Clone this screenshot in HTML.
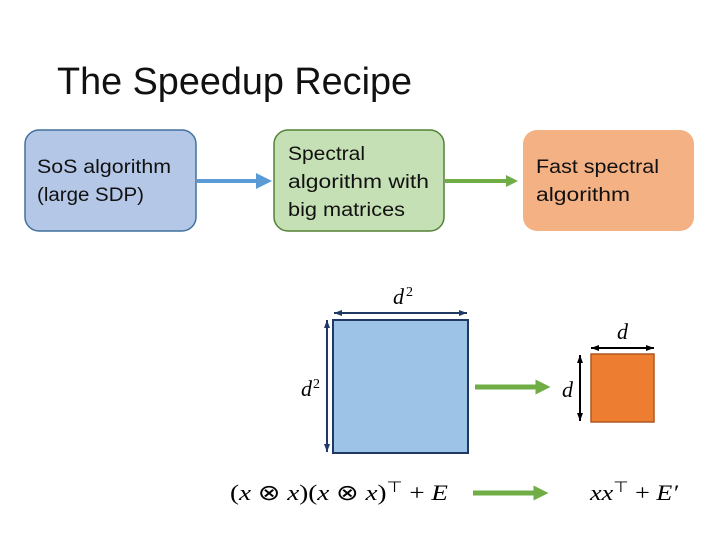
<!DOCTYPE html>
<html><head><meta charset="utf-8"><style>html,body{margin:0;padding:0;background:#fff}svg{display:block}</style></head>
<body>
<svg width="720" height="540" viewBox="0 0 720 540" xmlns="http://www.w3.org/2000/svg" font-family="Liberation Sans, sans-serif">
<defs>
<marker id="ab" markerWidth="4" markerHeight="4" refX="2" refY="2" orient="auto" markerUnits="strokeWidth"><path d="M0,0 L4,2 L0,4 z" fill="#5b9bd5"/></marker>
<marker id="ag" markerWidth="3" markerHeight="3" refX="1.5" refY="1.5" orient="auto" markerUnits="strokeWidth"><path d="M0,0 L3,1.5 L0,3 z" fill="#70ad47"/></marker>
<marker id="dn" markerWidth="8" markerHeight="6" refX="8" refY="3" orient="auto" markerUnits="userSpaceOnUse"><path d="M0,0 L8,3 L0,6 z" fill="#1f3864"/></marker>
<marker id="dk" markerWidth="8" markerHeight="6" refX="8" refY="3" orient="auto" markerUnits="userSpaceOnUse"><path d="M0,0 L8,3 L0,6 z" fill="#000"/></marker>
</defs>
<text x="57" y="94" font-size="38" textLength="355" lengthAdjust="spacingAndGlyphs" fill="#111">The Speedup Recipe</text>

<rect x="25" y="130" width="171" height="101" rx="14" fill="#b4c7e7" stroke="#41719c" stroke-width="1.5"/>
<text x="37" y="173" font-size="19" fill="#111" textLength="134" lengthAdjust="spacingAndGlyphs">SoS algorithm</text>
<text x="37" y="201" font-size="19" fill="#111" textLength="107" lengthAdjust="spacingAndGlyphs">(large SDP)</text>

<rect x="274" y="130" width="170" height="101" rx="14" fill="#c5e0b4" stroke="#538135" stroke-width="1.5"/>
<text x="288" y="160" font-size="19" fill="#111" textLength="77" lengthAdjust="spacingAndGlyphs">Spectral</text>
<text x="288" y="188" font-size="19" fill="#111" textLength="141" lengthAdjust="spacingAndGlyphs">algorithm with</text>
<text x="288" y="216" font-size="19" fill="#111" textLength="117" lengthAdjust="spacingAndGlyphs">big matrices</text>

<rect x="523" y="130" width="171" height="101" rx="14" fill="#f4b183"/>
<text x="536" y="173" font-size="19" fill="#111" textLength="123" lengthAdjust="spacingAndGlyphs">Fast spectral</text>
<text x="536" y="201" font-size="19" fill="#111" textLength="94" lengthAdjust="spacingAndGlyphs">algorithm</text>

<line x1="197" y1="181" x2="264" y2="181" stroke="#5b9bd5" stroke-width="4" marker-end="url(#ab)"/>
<line x1="445" y1="181" x2="512" y2="181" stroke="#70ad47" stroke-width="4" marker-end="url(#ab)" style="marker-end:url(#ag)"/>

<rect x="333" y="320" width="135" height="133" fill="#9dc3e6" stroke="#1f3864" stroke-width="2"/>
<line x1="336" y1="313" x2="467" y2="313" stroke="#1f3864" stroke-width="2" marker-end="url(#dn)"/>
<line x1="465" y1="313" x2="334" y2="313" stroke="#1f3864" stroke-width="2" marker-end="url(#dn)"/>
<line x1="327" y1="322" x2="327" y2="452" stroke="#1f3864" stroke-width="2" marker-end="url(#dn)"/>
<line x1="327" y1="451" x2="327" y2="320" stroke="#1f3864" stroke-width="2" marker-end="url(#dn)"/>
<text x="393" y="304" font-size="22" font-style="italic" font-family="Liberation Serif, serif">d</text>
<text x="406" y="296" font-size="14" font-family="Liberation Serif, serif">2</text>
<text x="301" y="396" font-size="22" font-style="italic" font-family="Liberation Serif, serif">d</text>
<text x="313" y="388" font-size="14" font-family="Liberation Serif, serif">2</text>

<rect x="591" y="354" width="63" height="68" fill="#ed7d31" stroke="#ae5a21" stroke-width="1.5"/>
<line x1="592" y1="348" x2="654" y2="348" stroke="#000" stroke-width="2" marker-end="url(#dk)"/>
<line x1="653" y1="348" x2="591" y2="348" stroke="#000" stroke-width="2" marker-end="url(#dk)"/>
<line x1="580" y1="356" x2="580" y2="421" stroke="#000" stroke-width="2" marker-end="url(#dk)"/>
<line x1="580" y1="420" x2="580" y2="355" stroke="#000" stroke-width="2" marker-end="url(#dk)"/>
<text x="617" y="339" font-size="22" font-style="italic" font-family="Liberation Serif, serif">d</text>
<text x="562" y="397" font-size="22" font-style="italic" font-family="Liberation Serif, serif">d</text>

<line x1="475" y1="387" x2="543" y2="387" stroke="#70ad47" stroke-width="5" marker-end="url(#ag)"/>
<line x1="473" y1="493" x2="541" y2="493" stroke="#70ad47" stroke-width="5" marker-end="url(#ag)"/>

<text x="230" y="500" font-size="22" font-family="Liberation Serif, serif" textLength="218" lengthAdjust="spacingAndGlyphs">(<tspan font-style="italic">x</tspan> ⊗ <tspan font-style="italic">x</tspan>)(<tspan font-style="italic">x</tspan> ⊗ <tspan font-style="italic">x</tspan>)<tspan font-size="15" dy="-8">⊤</tspan><tspan dy="8"> + </tspan><tspan font-style="italic">E</tspan></text>
<text x="590" y="500" font-size="22" font-family="Liberation Serif, serif" textLength="88" lengthAdjust="spacingAndGlyphs"><tspan font-style="italic">xx</tspan><tspan font-size="15" dy="-8">⊤</tspan><tspan dy="8"> + </tspan><tspan font-style="italic">E′</tspan></text>
</svg>
</body></html>
